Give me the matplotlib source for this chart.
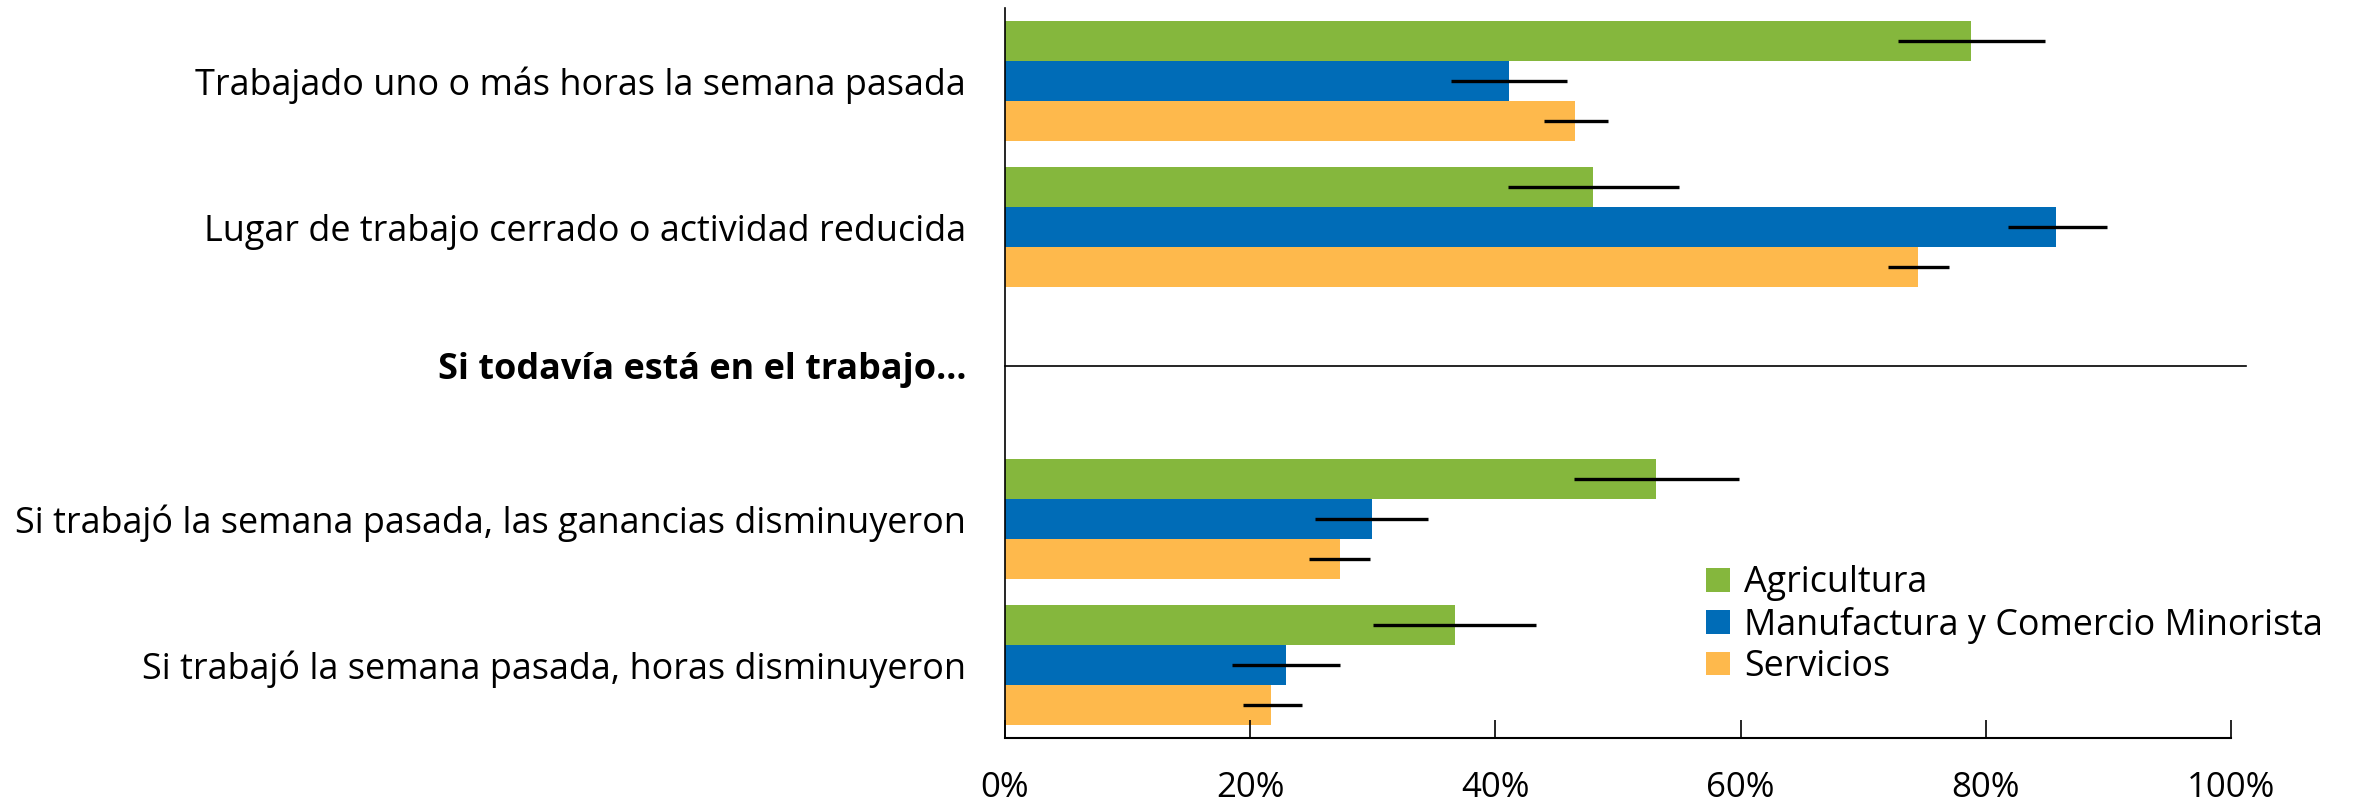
import matplotlib
matplotlib.use("Agg")
from matplotlib import pyplot as plt
import numpy as np

plt.rcParams['font.family'] = ['Open Sans', 'DejaVu Sans']

# row labels (top to bottom), separator row sits between the two pairs
categories = ['Trabajado uno o más horas la semana pasada',
              'Lugar de trabajo cerrado o actividad reducida',
              'Si trabajó la semana pasada, las ganancias disminuyeron',
              'Si trabajó la semana pasada, horas disminuyeron']
section_label = 'Si todavía está en el trabajo...'
series = ['Agricultura', 'Manufactura y Comercio Minorista', 'Servicios']
colors = ['#85B73D', '#006CB7', '#FEB94C']

# values in percent, with lower / upper bound of the interval
agri = [78.8, 48.0, 53.1, 36.7]
agri_lo = [72.8, 41.0, 46.4, 30.0]
agri_hi = [84.8, 55.0, 59.9, 43.3]

manu = [41.1, 85.7, 29.9, 22.9]
manu_lo = [36.4, 81.8, 25.3, 18.5]
manu_hi = [45.8, 89.9, 34.5, 27.3]

serv = [46.5, 74.5, 27.3, 21.7]
serv_lo = [44.0, 72.0, 24.8, 19.4]
serv_hi = [49.2, 77.0, 29.8, 24.2]

xticks = [0, 20, 40, 60, 80, 100]

rows = np.array([0, 1, 3, 4])
sep_row = 1.95
h = 0.275

fig = plt.figure(figsize=(23.54, 8.08), dpi=100)
ax = fig.add_axes([1005 / 2354, 1 - 738 / 808, (2231 - 1005) / 2354, 730 / 808])

data = [(agri, agri_lo, agri_hi), (manu, manu_lo, manu_hi), (serv, serv_lo, serv_hi)]
for i, (vals, lo, hi) in enumerate(data):
    vals = np.array(vals)
    err = [vals - np.array(lo), np.array(hi) - vals]
    ax.barh(rows + (i - 1) * h, vals, height=h, color=colors[i], label=series[i],
            xerr=err, error_kw=dict(ecolor='black', elinewidth=2.4, capsize=0))

# separator line for the section heading
ax.plot([0, 101.2], [sep_row, sep_row], color='black', lw=1.2, clip_on=False)

ax.set_xlim(0, 100)
ax.set_ylim(4.5, -0.5)

ax.set_yticks(list(rows[:2]) + [sep_row] + list(rows[2:]))
ax.set_yticklabels(categories[:2] + [section_label] + categories[2:])
ax.get_yticklabels()[2].set_fontweight('bold')
ax.tick_params(axis='y', length=0, pad=28, labelsize=25.9)

ax.set_xticks(xticks)
ax.set_xticklabels([f'{t}%' for t in xticks])
ax.tick_params(axis='x', direction='in', length=13, width=1.2, pad=24, labelsize=25)

for s in ['top', 'right']:
    ax.spines[s].set_visible(False)
ax.spines['left'].set_linewidth(1.2)
ax.spines['bottom'].set_linewidth(1.5)

ax.legend(loc='upper left', bbox_to_anchor=((1692 - 1005) / 1226, 1 - 543 / 730),
          frameon=False, fontsize=25.8, handlelength=0.65, handleheight=0.65,
          handletextpad=0.4, labelspacing=0.15, borderaxespad=0)

plt.savefig('out.png', dpi=100)
plt.close()
